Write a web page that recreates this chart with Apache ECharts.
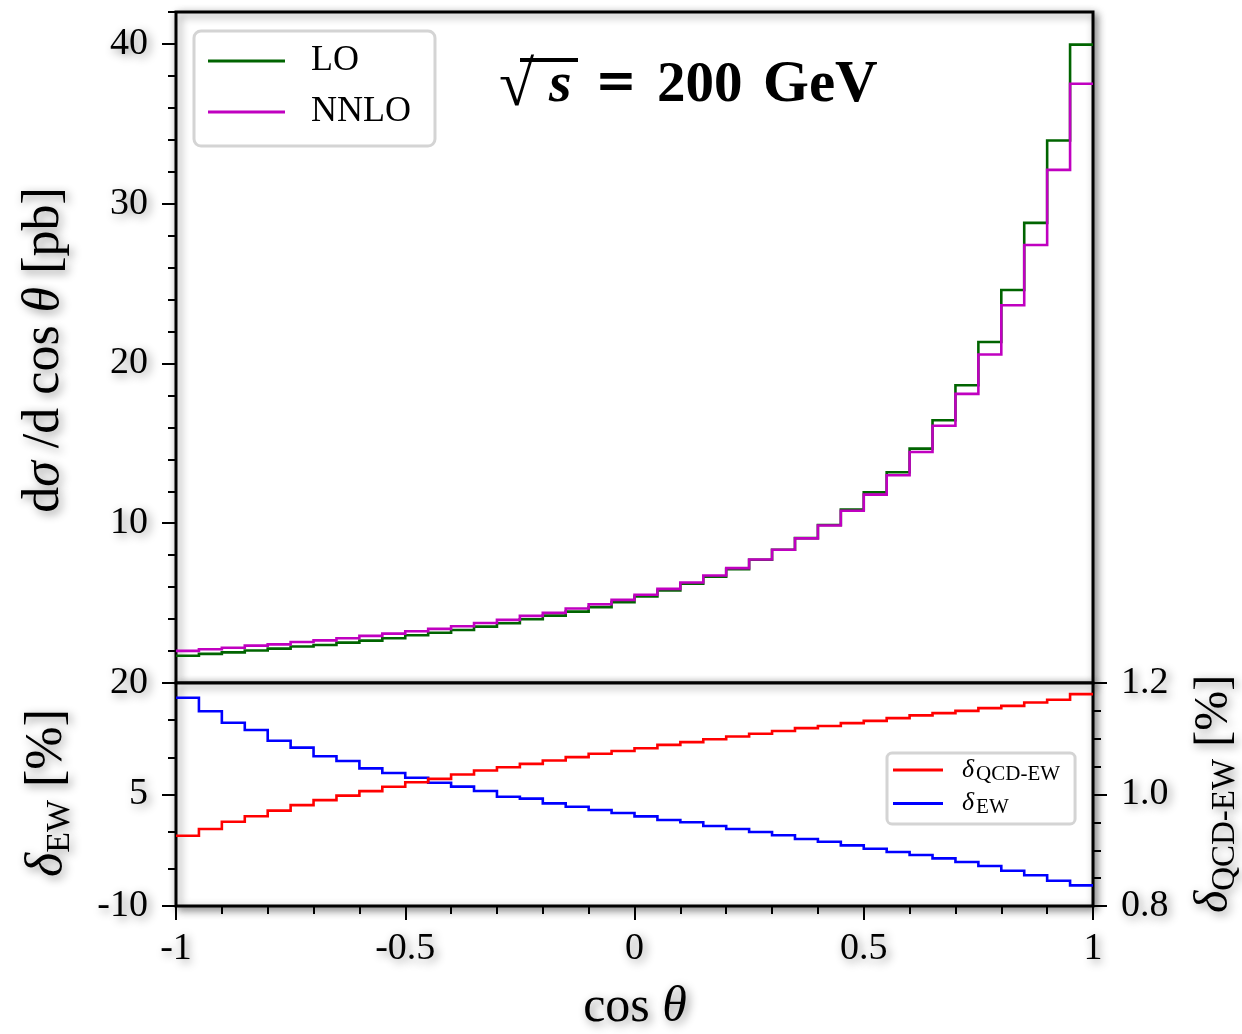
<!DOCTYPE html>
<html><head><meta charset="utf-8">
<script src="https://cdn.jsdelivr.net/npm/echarts@6/dist/echarts.min.js"></script>
<style>html,body{margin:0;padding:0;background:#fff}#c{width:1242px;height:1034px}</style>
</head><body><div id="c"></div>
<script>
// ---- data ----
const binEdges = [-1,-0.95,-0.9,-0.85,-0.8,-0.75,-0.7,-0.65,-0.6,-0.55,-0.5,-0.45,-0.4,-0.35,-0.3,-0.25,-0.2,-0.15,-0.1,-0.05,0,
  0.05,0.1,0.15,0.2,0.25,0.3,0.35,0.4,0.45,0.5,0.55,0.6,0.65,0.7,0.75,0.8,0.85,0.9,0.95,1];
const loValues = [1.71,1.82,1.92,2.03,2.15,2.28,2.38,2.53,2.65,2.80,2.99,3.15,3.32,3.53,3.74,3.99,4.22,4.47,4.75,5.06,
  5.41,5.79,6.21,6.65,7.13,7.71,8.34,9.07,9.89,10.86,11.93,13.19,14.67,16.45,18.64,21.34,24.60,28.80,33.96,39.96];
const nnloValues = [2.01,2.11,2.21,2.34,2.42,2.57,2.67,2.80,2.95,3.09,3.24,3.39,3.55,3.76,3.95,4.20,4.39,4.66,4.93,5.20,
  5.52,5.89,6.29,6.73,7.19,7.73,8.34,9.05,9.86,10.78,11.79,13.00,14.46,16.10,18.10,20.56,23.64,27.42,32.12,37.51];
const deltaEW = [18.02,16.19,14.66,13.68,12.24,11.30,10.14,9.51,8.52,7.89,7.26,6.59,6.06,5.47,4.70,4.44,3.81,3.36,2.91,2.51,
  2.06,1.57,1.26,0.76,0.36,-0.05,-0.49,-0.99,-1.35,-1.84,-2.30,-2.74,-3.14,-3.59,-4.08,-4.62,-5.25,-5.87,-6.60,-7.22];
const deltaQCDEW = [0.926,0.938,0.951,0.961,0.971,0.981,0.990,0.998,1.006,1.014,1.022,1.028,1.036,1.043,1.049,1.055,1.061,1.067,1.073,1.078,
  1.083,1.089,1.094,1.099,1.104,1.109,1.114,1.119,1.123,1.128,1.132,1.137,1.142,1.146,1.150,1.155,1.159,1.165,1.170,1.180];
const xTickLabels = [-1,-0.5,0,0.5,1];
const topTickLabels = [10,20,30,40];
const topMajorTicks = [0,10,20,30,40];
const ewTickLabels = [-10,5,20];
const qcdTickLabels = [0.8,1.0,1.2];

// ---- helpers ----
// histogram outline: each bin contributes its left and right edge at the bin value
function steps(vals){
  const pts = [];
  vals.forEach((v,i)=>{ pts.push([binEdges[i], v]); pts.push([binEdges[i+1], v]); });
  return pts;
}
const FONT = '"Liberation Serif", "DejaVu Serif", serif';
const shadow = {textShadowColor:'rgba(0,0,0,0.45)', textShadowBlur:10, textShadowOffsetX:3, textShadowOffsetY:3};
const lbl = Object.assign({fontFamily:FONT, fontSize:38, color:'#000'}, shadow);
const tickStyle = {color:'#000', width:2};
const noLine = {show:false, onZero:false};

const chart = echarts.init(document.getElementById('c'), null, {renderer:'canvas'});
const gridCommon = {show:true, borderColor:'#000', borderWidth:3, backgroundColor:'#fff',
  shadowColor:'rgba(0,0,0,0.45)', shadowBlur:8, shadowOffsetX:3, shadowOffsetY:3, containLabel:false};
const histSeries = (name, vals, xi, yi, color, z) => ({name, type:'lines', coordinateSystem:'cartesian2d', polyline:true,
  xAxisIndex:xi, yAxisIndex:yi, data:[{coords:steps(vals)}], color, itemStyle:{color},
  lineStyle:{color, width:2.6, opacity:1, curveness:0, join:'miter'}, silent:true, z});
const legItem = (name, color) => ({name, itemStyle:{color, borderWidth:0}, lineStyle:{width:0}});

const option = {
  animation:false,
  backgroundColor:'#fff',
  grid:[
    Object.assign({left:176, top:12, width:917, height:671}, gridCommon),
    Object.assign({left:176, top:683, width:917, height:223}, gridCommon)
  ],
  xAxis:[
    {gridIndex:0, type:'value', min:-1, max:1, axisLine:noLine, axisTick:{show:false}, axisLabel:{show:false}, splitLine:{show:false}},
    {gridIndex:1, type:'value', min:-1, max:1, interval:0.1, position:'bottom', axisLine:noLine, axisTick:{show:true, inside:false, length:8, lineStyle:tickStyle}, axisLabel:{show:false}, splitLine:{show:false}},
    {gridIndex:1, type:'value', min:-1, max:1, position:'bottom', axisLine:noLine,
      axisTick:{show:true, inside:false, length:14, lineStyle:tickStyle, customValues:xTickLabels},
      axisLabel:Object.assign({show:true, margin:24, customValues:xTickLabels, formatter:v=>String(v)}, lbl),
      splitLine:{show:false}}
  ],
  yAxis:[
    {gridIndex:0, type:'value', min:0, max:42, interval:2, position:'left', axisLine:noLine,
      axisTick:{show:true, inside:false, length:8, lineStyle:tickStyle},
      axisLabel:Object.assign({show:true, margin:28, customValues:topTickLabels}, lbl), splitLine:{show:false}},
    {gridIndex:0, type:'value', min:0, max:42, position:'left', axisLine:noLine,
      axisTick:{show:true, inside:false, length:14, lineStyle:tickStyle, customValues:topMajorTicks},
      axisLabel:{show:false}, splitLine:{show:false}},
    {gridIndex:1, type:'value', min:-10, max:20, interval:5, position:'left', axisLine:noLine,
      axisTick:{show:true, inside:false, length:8, lineStyle:tickStyle},
      axisLabel:Object.assign({show:true, margin:28, customValues:ewTickLabels}, lbl), splitLine:{show:false}},
    {gridIndex:1, type:'value', min:-10, max:20, position:'left', axisLine:noLine,
      axisTick:{show:true, inside:false, length:14, lineStyle:tickStyle, customValues:ewTickLabels},
      axisLabel:{show:false}, splitLine:{show:false}},
    {gridIndex:1, type:'value', min:0.8, max:1.2, interval:0.05, position:'right', axisLine:noLine,
      axisTick:{show:true, inside:false, length:8, lineStyle:tickStyle},
      axisLabel:Object.assign({show:true, margin:28, customValues:qcdTickLabels, formatter:v=>Number(v).toFixed(1)}, lbl), splitLine:{show:false}},
    {gridIndex:1, type:'value', min:0.8, max:1.2, position:'right', axisLine:noLine,
      axisTick:{show:true, inside:false, length:14, lineStyle:tickStyle, customValues:qcdTickLabels},
      axisLabel:{show:false}, splitLine:{show:false}}
  ],
  legend:[
    {data:[legItem('LO','#006400'), legItem('NNLO','#c000c0')],
      orient:'vertical', left:194, top:31, padding:[10,24,14,14],
      itemWidth:77, itemHeight:3, itemGap:11, icon:'rect',
      textStyle:{fontFamily:FONT, fontSize:36, lineHeight:40, color:'#000', padding:[0,0,0,21]},
      borderColor:'#d4d4d4', borderWidth:3, borderRadius:7, backgroundColor:'#fff'},
    {data:[legItem('dQCDEW','#ff0000'), legItem('dEW','#0000ff')],
      orient:'vertical', left:887, top:753, padding:[4,15,6,6],
      itemWidth:50, itemHeight:3, itemGap:6, icon:'rect',
      formatter:n => n==='dQCDEW' ? '{d|δ}{s|QCD-EW}' : '{d|δ}{s|EW}',
      textStyle:{fontFamily:FONT, color:'#000', padding:[0,0,0,14],
        rich:{d:{fontFamily:FONT, fontSize:26, fontStyle:'italic', lineHeight:29, verticalAlign:'middle'},
              s:{fontFamily:FONT, fontSize:21, lineHeight:21, verticalAlign:'bottom', padding:[0,0,0,2]}}},
      borderColor:'#d4d4d4', borderWidth:3, borderRadius:5, backgroundColor:'#fff'}
  ],
  series:[
    histSeries('LO', loValues, 0, 0, '#006400', 2),
    histSeries('NNLO', nnloValues, 0, 0, '#c000c0', 3),
    histSeries('dEW', deltaEW, 1, 2, '#0000ff', 2),
    histSeries('dQCDEW', deltaQCDEW, 1, 4, '#ff0000', 3)
  ],
  graphic:[
    {type:'text', x:44, y:350, rotation:Math.PI/2, z:10,
      style:{text:'{n|d}{i|σ}{n| /d cos }{i|θ}{n| [pb]}', textAlign:'center', textVerticalAlign:'middle', fill:'#000',
        rich:{n:Object.assign({fontFamily:FONT, fontSize:52}, shadow), i:Object.assign({fontFamily:FONT, fontSize:52, fontStyle:'italic'}, shadow)}}},
    {type:'text', x:47, y:793, rotation:Math.PI/2, z:10,
      style:{text:'{i|δ}{s|EW}{n| [%]}', textAlign:'center', textVerticalAlign:'middle', fill:'#000',
        rich:{i:Object.assign({fontFamily:FONT, fontSize:52, fontStyle:'italic', lineHeight:60, verticalAlign:'middle'}, shadow),
              s:Object.assign({fontFamily:FONT, fontSize:34, lineHeight:34, verticalAlign:'bottom'}, shadow),
              n:Object.assign({fontFamily:FONT, fontSize:52, lineHeight:60, verticalAlign:'middle'}, shadow)}}},
    {type:'text', x:1214, y:794, rotation:Math.PI/2, z:10,
      style:{text:'{i|δ}{s|QCD-EW}{n| [%]}', textAlign:'center', textVerticalAlign:'middle', fill:'#000',
        rich:{i:Object.assign({fontFamily:FONT, fontSize:48, fontStyle:'italic', lineHeight:56, verticalAlign:'middle'}, shadow),
              s:Object.assign({fontFamily:FONT, fontSize:33, lineHeight:33, verticalAlign:'bottom'}, shadow),
              n:Object.assign({fontFamily:FONT, fontSize:48, lineHeight:56, verticalAlign:'middle'}, shadow)}}},
    {type:'text', x:635, y:1008, z:10,
      style:{text:'{n|cos }{i|θ}', textAlign:'center', textVerticalAlign:'middle', fill:'#000',
        rich:{n:Object.assign({fontFamily:FONT, fontSize:50}, shadow), i:Object.assign({fontFamily:FONT, fontSize:50, fontStyle:'italic'}, shadow)}}},
    // √s = 200 GeV annotation
    {type:'text', x:499, y:88, z:10, style:{text:'√', font:'bold 64px "Liberation Serif"', fill:'#000', textAlign:'left', textVerticalAlign:'middle'}},
    {type:'text', x:549, y:86, z:10, style:{text:'s', font:'italic bold 58px "Liberation Serif"', fill:'#000', textAlign:'left', textVerticalAlign:'middle'}},
    {type:'line', z:10, shape:{x1:520, y1:60, x2:578, y2:60}, style:{stroke:'#000', lineWidth:4}},
    {type:'text', x:595, y:84, z:10, style:{text:'=', font:'bold 50px "DejaVu Serif"', fill:'#000', textAlign:'left', textVerticalAlign:'middle'}},
    {type:'text', x:657, y:86, z:10, style:{text:'200', font:'bold 57px "Liberation Serif"', fill:'#000', textAlign:'left', textVerticalAlign:'middle'}},
    {type:'text', x:763, y:86, z:10, style:{text:'GeV', font:'bold 59px "Liberation Serif"', fill:'#000', textAlign:'left', textVerticalAlign:'middle'}}
  ]
};
chart.setOption(option);
</script></body></html>
